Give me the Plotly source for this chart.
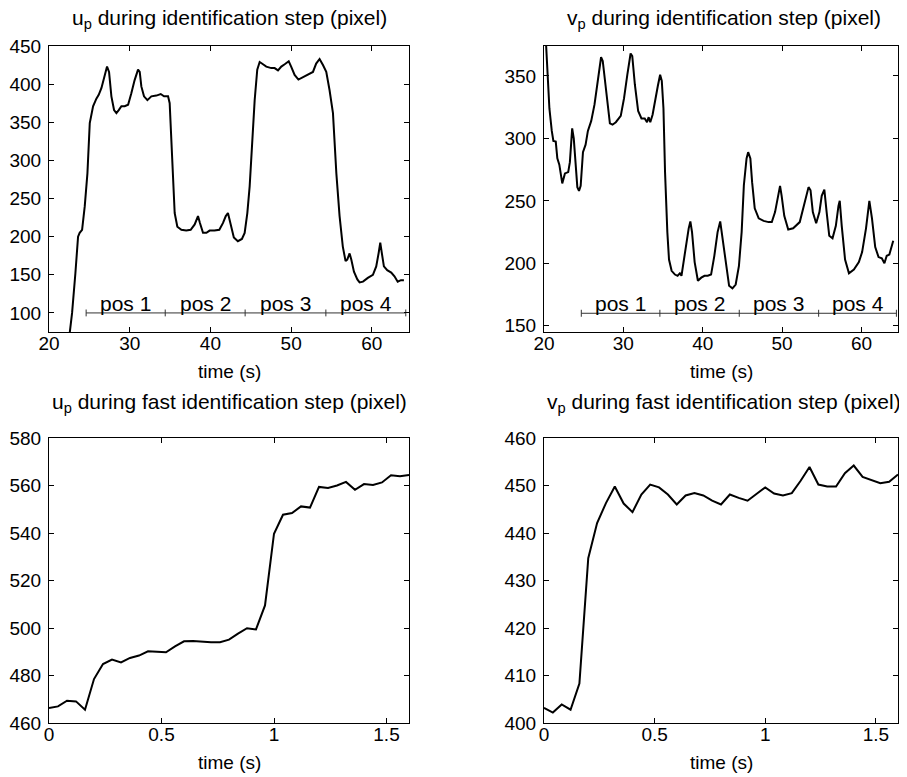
import plotly.graph_objects as go

W, H = 891, 769
OFF = 8  # page body margin of the browser

# ---------------- data ----------------
# top-left: u_p during identification step
tl_time = [22.3, 22.57, 22.86, 23.27, 23.6, 23.8, 24.1, 24.43, 24.76, 25.05, 25.46, 25.87, 26.16, 26.5,
           26.9, 27.19, 27.44, 27.73, 28.06, 28.35, 28.64, 28.97, 29.38, 29.8, 30.2, 30.6, 31.03,
           31.24, 31.44, 31.77, 32.19, 32.68, 33.3, 33.84, 34.25, 34.75, 34.95, 35.16, 35.37, 35.57,
           35.9, 36.4, 37.0, 37.55, 38.05, 38.46, 38.7, 39.08, 39.5, 39.9, 40.5, 41.1, 41.56, 41.9,
           42.17, 42.5, 42.9, 43.4, 43.9, 44.24, 44.57, 44.86, 45.15, 45.48, 45.8, 46.1, 46.38,
           46.92, 47.54, 47.95, 48.37, 48.78, 49.2, 49.7, 50.0, 50.43, 50.9, 51.46, 52.08, 52.7,
           53.1, 53.52, 53.94, 54.35, 54.76, 55.18, 55.6, 56.0, 56.4, 56.74, 56.95, 57.24, 57.45,
           57.78, 58.2, 58.48, 58.9, 59.5, 60.13, 60.54, 60.83, 61.04, 61.24, 61.49, 61.9, 62.4,
           62.8, 63.2, 63.6, 63.97]
tl_u = [50, 75, 100, 152, 200, 205, 209, 240, 283, 349, 371, 381, 386, 395,
        412, 423, 416, 384, 366, 362, 366, 371, 371, 373, 388, 405, 419,
        416, 397, 384, 379, 384, 385, 387, 384, 384, 375, 327, 270, 231,
        213, 209, 208, 209, 216, 227, 218, 205, 205, 208, 208, 209, 218, 227,
        231, 218, 199, 194, 197, 205, 231, 266, 327, 379, 419, 429, 427,
        423, 421, 421, 418, 423, 426, 430, 423, 412, 406, 409, 412, 416,
        427, 433, 425, 416, 392, 362, 283, 227, 187, 168, 170, 178, 170,
        154, 144, 140, 141, 146, 150, 161, 178, 192, 178, 161, 156, 153,
        148, 141, 143, 143]

# top-right: v_p during identification step
tr_time = [20.1, 20.44, 20.68, 20.98, 21.18, 21.48, 21.68, 21.93, 22.1, 22.3, 22.64, 23.05, 23.26,
           23.55, 23.75, 24.0, 24.2, 24.41, 24.62, 24.91, 25.24, 25.53, 25.95, 26.36, 26.77, 27.19,
           27.4, 27.68, 28.01, 28.3, 28.63, 29.05, 29.67, 30.08, 30.5, 30.91, 31.12, 31.45, 31.86,
           32.28, 32.69, 32.98, 33.19, 33.39, 33.68, 34.01, 34.34, 34.63, 34.84, 35.05, 35.25,
           35.54, 35.75, 36.08, 36.5, 36.83, 37.12, 37.32, 37.65, 37.94, 38.23, 38.44, 38.65,
           38.98, 39.39, 39.81, 40.22, 40.63, 41.05, 41.46, 41.87, 42.2, 42.5, 42.9, 43.32, 43.74,
           44.15, 44.56, 44.9, 45.18, 45.52, 45.72, 46.0, 46.22, 46.55, 47.05, 47.67, 48.29, 48.7,
           49.11, 49.45, 49.74, 49.94, 50.27, 50.77, 51.39, 52.22, 52.84, 53.33, 53.58, 53.87,
           54.29, 54.7, 54.99, 55.32, 55.61, 55.94, 56.35, 56.77, 57.1, 57.26, 57.51, 57.93,
           58.42, 59.04, 59.67, 60.08, 60.57, 60.99, 61.32, 61.73, 62.15, 62.56, 62.89, 63.18,
           63.51, 63.8, 64.0]
tr_v = [395, 351, 324, 306, 298, 297.5, 284, 279, 273, 264, 272, 273, 281,
        308, 300, 273, 261, 258, 262, 289, 295, 306, 314, 327, 345, 365,
        362, 346, 324, 312, 311, 313, 318, 332, 351, 368, 366, 343, 322,
        316, 316, 313, 317, 313, 319, 332, 342, 351, 346, 324, 273,
        225, 203, 194, 191, 190, 192, 190, 205, 214, 228, 233.5, 225,
        201, 186, 188.5, 190, 190, 191, 206, 225, 233.5, 219, 198, 182, 180,
        183, 198, 225, 262.5, 284, 289, 284, 265, 244, 236, 234, 233, 233,
        241, 252, 262, 254, 238, 227, 228, 233, 249, 261, 258.5, 241,
        232, 241, 254, 259, 241, 222, 220, 230, 246, 250, 230, 203,
        192, 195, 201, 209, 228, 250, 236, 213, 205, 204, 200, 206,
        207, 214, 218]

# bottom plots: fast identification step (25 Hz samples)
fast_time = [round(0.04 * i, 2) for i in range(41)]
bl_u = [466.3, 467.0, 469.4, 469.1, 465.6, 478.5, 484.8, 486.7, 485.5, 487.4,
        488.4, 490.2, 490.0, 489.8, 492.3, 494.4, 494.5, 494.2, 494.0, 494.0,
        495.1, 497.6, 499.9, 499.4, 509.5, 539.7, 547.7, 548.4, 551.2, 550.7,
        559.4, 559.0, 560.0, 561.5, 558.2, 560.6, 560.2, 561.3, 564.3, 563.9, 564.4]
br_v = [403.2, 402.2, 403.9, 402.8, 408.3, 434.7, 442.1, 446.3, 449.8, 446.2,
        444.4, 448.1, 450.2, 449.6, 448.1, 446.0, 447.9, 448.4, 447.9, 446.8,
        446.0, 448.1, 447.4, 446.8, 448.2, 449.6, 448.3, 447.9, 448.4, 451.0,
        453.9, 450.2, 449.8, 449.8, 452.6, 454.2, 451.8, 451.2, 450.5, 450.8, 452.3]

# position segments
pos_labels = ["pos 1", "pos 2", "pos 3", "pos 4"]
tl_pos_bounds = [24.6, 34.4, 44.3, 54.3, 64.2]
tl_pos_level = 100
tr_pos_bounds = [24.7, 34.6, 44.6, 54.6, 64.4]
tr_pos_level = 160

titles = ["u<sub>p</sub> during identification step (pixel)",
          "v<sub>p</sub> during identification step (pixel)",
          "u<sub>p</sub> during fast identification step (pixel)",
          "v<sub>p</sub> during fast identification step (pixel)"]
xlabel = "time (s)"

top_xticks = [20, 30, 40, 50, 60]
bot_xticks = [0, 0.5, 1, 1.5]
bot_xticktext = ["0", "0.5", "1", "1.5"]
tl_yticks = [100, 150, 200, 250, 300, 350, 400, 450]
tr_yticks = [150, 200, 250, 300, 350]
bl_yticks = [460, 480, 500, 520, 540, 560, 580]
br_yticks = [400, 410, 420, 430, 440, 450, 460]

# ---------------- layout helpers ----------------
FONT = "Liberation Sans, Arial, Helvetica, sans-serif"
# pixel boxes on the page: (left, top, right, bottom, title_center_y, text_center_x)
boxes = {
    1: (49, 46, 409, 332, 19, 229),
    2: (544, 46, 898, 332, 19, 724),
    3: (49, 438, 409, 723, 403, 229),
    4: (544, 438, 898, 723, 403, 724),
}


def px2x(px):
    return (px - OFF) / W


def px2y(py):
    return 1 - (py - OFF) / H


def axis(domain, rng, tickvals, ticktext=None):
    d = dict(domain=domain, range=rng, tickvals=tickvals, showline=True, mirror="ticks",
             ticks="inside", ticklen=5, tickwidth=1, linecolor="black", tickcolor="black",
             linewidth=1, showgrid=False, zeroline=False, automargin=False,
             tickfont=dict(family=FONT, size=19, color="black"))
    if ticktext is not None:
        d["ticktext"] = ticktext
    return d


fig = go.Figure()
line_style = dict(color="black", width=2)

fig.add_trace(go.Scatter(x=tl_time, y=tl_u, mode="lines", line=line_style, xaxis="x", yaxis="y"))
fig.add_trace(go.Scatter(x=tr_time, y=tr_v, mode="lines", line=line_style, xaxis="x2", yaxis="y2"))
fig.add_trace(go.Scatter(x=fast_time, y=bl_u, mode="lines", line=line_style, xaxis="x3", yaxis="y3"))
fig.add_trace(go.Scatter(x=fast_time, y=br_v, mode="lines", line=line_style, xaxis="x4", yaxis="y4"))


def pos_bar(bounds, level, half, xa, ya):
    xs = [bounds[0], bounds[-1], None]
    ys = [level, level, None]
    for b in bounds:
        xs += [b, b, None]
        ys += [level - half, level + half, None]
    fig.add_trace(go.Scatter(x=xs, y=ys, mode="lines", line=dict(color="#333333", width=1),
                             xaxis=xa, yaxis=ya, hoverinfo="skip"))
    for i, lab in enumerate(pos_labels):
        fig.add_annotation(x=(bounds[i] + bounds[i + 1]) / 2, y=level, xref=xa, yref=ya,
                           text=lab, showarrow=False, yanchor="bottom", yshift=-4,
                           font=dict(family=FONT, size=21, color="black"))


pos_bar(tl_pos_bounds, tl_pos_level, 4.5, "x", "y")
pos_bar(tr_pos_bounds, tr_pos_level, 2.8, "x2", "y2")

layout = dict(width=W, height=H, margin=dict(l=0, r=0, t=0, b=0, autoexpand=False), showlegend=False,
              plot_bgcolor="white", paper_bgcolor="white", font=dict(family=FONT, color="black"))

specs = {
    1: ([20, 64.6], top_xticks, None, [75, 450], tl_yticks),
    2: ([20, 64.6], top_xticks, None, [145, 374], tr_yticks),
    3: ([0, 1.6], bot_xticks, bot_xticktext, [460, 580], bl_yticks),
    4: ([0, 1.6], bot_xticks, bot_xticktext, [400, 460], br_yticks),
}
annotations = []
for k, (xr, xt, xtt, yr, yt) in specs.items():
    l, t, r, b, ty, cx = boxes[k]
    sfx = "" if k == 1 else str(k)
    layout["xaxis" + sfx] = axis([px2x(l), px2x(r)], xr, xt, xtt)
    layout["xaxis" + sfx]["anchor"] = "y" + sfx
    layout["xaxis" + sfx]["ticklabelstandoff"] = -6
    layout["yaxis" + sfx] = axis([px2y(b), px2y(t)], yr, yt)
    layout["yaxis" + sfx]["anchor"] = "x" + sfx
    layout["yaxis" + sfx]["ticklabelstandoff"] = 3
    annotations.append(dict(x=px2x(cx), y=px2y(ty), xref="paper", yref="paper",
                            text=titles[k - 1], showarrow=False, xanchor="center", yanchor="middle",
                            font=dict(family=FONT, size=21, color="black")))
    annotations.append(dict(x=px2x((l + r) / 2), y=px2y(b + 39), xref="paper", yref="paper",
                            text=xlabel, showarrow=False, xanchor="center", yanchor="middle",
                            font=dict(family=FONT, size=19, color="black")))

fig.update_layout(**layout)
for a in annotations:
    fig.add_annotation(**a)

fig.write_html("out.html")
